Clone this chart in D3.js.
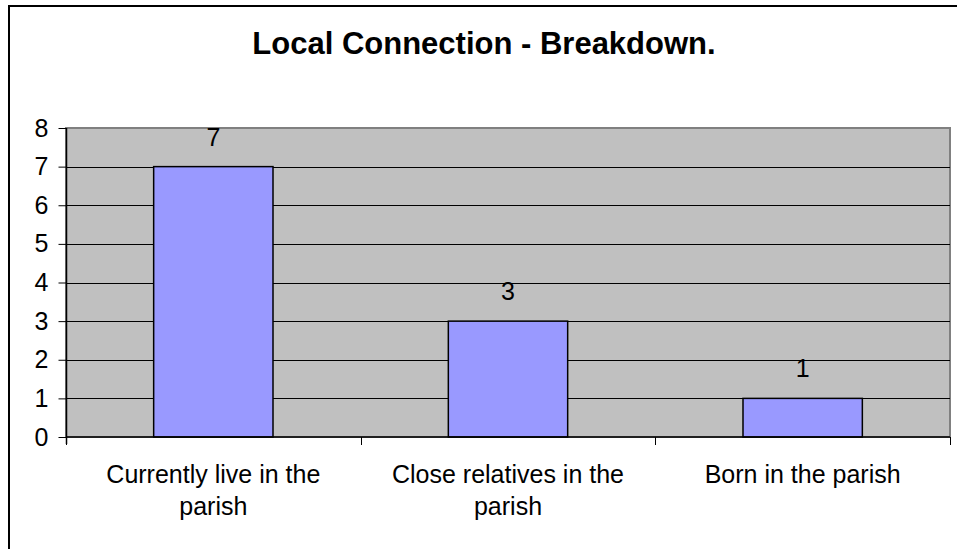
<!DOCTYPE html>
<html>
<head>
<meta charset="utf-8">
<script src="https://cdn.jsdelivr.net/npm/d3@7"></script>
<style>
html,body{margin:0;padding:0;background:#fff;}
svg{display:block;font-family:"Liberation Sans",Arial,sans-serif;}
</style>
</head>
<body>
<svg id="chart" width="957" height="549"></svg>
<script>
const title = "Local Connection - Breakdown.";
const categories = ["Currently live in the parish", "Close relatives in the parish", "Born in the parish"];
const categoryLines = [["Currently live in the", "parish"], ["Close relatives in the", "parish"], ["Born in the parish"]];
const values = [7, 3, 1];
const yTicks = [0, 1, 2, 3, 4, 5, 6, 7, 8];

const svg = d3.select("#chart");
const W = 957, H = 549;
const plot = {left: 66, top: 128, right: 950, bottom: 437};

svg.append("rect").attr("width", W).attr("height", H).attr("fill", "#fff");
// outer chart border
svg.append("rect").attr("x", 9).attr("y", 6).attr("width", W + 20).attr("height", H + 20)
  .attr("fill", "none").attr("stroke", "#000").attr("stroke-width", 2);

svg.append("text").attr("x", 484).attr("y", 54).attr("text-anchor", "middle")
  .attr("font-size", 31).attr("font-weight", "bold").attr("fill", "#000").text(title);

const x = d3.scaleBand().domain(categories).range([plot.left, plot.right]).paddingInner(0).paddingOuter(0);
const y = d3.scaleLinear().domain([0, 8]).range([plot.bottom, plot.top]);

// plot area
svg.append("rect").attr("x", plot.left).attr("y", plot.top)
  .attr("width", plot.right - plot.left).attr("height", plot.bottom - plot.top)
  .attr("fill", "#C0C0C0").attr("stroke", "#808080").attr("stroke-width", 2);

// gridlines
svg.append("g").selectAll("line").data(yTicks.filter(d => d > 0 && d < 8)).join("line")
  .attr("x1", plot.left).attr("x2", plot.right)
  .attr("y1", d => Math.round(y(d)) + 0.5).attr("y2", d => Math.round(y(d)) + 0.5)
  .attr("stroke", "#000").attr("stroke-width", 1);

// bars
const bw = x.bandwidth() * 0.405;
svg.append("g").selectAll("rect").data(values).join("rect")
  .attr("x", (d, i) => x(categories[i]) + x.bandwidth() / 2 - bw / 2)
  .attr("y", d => y(d))
  .attr("width", bw)
  .attr("height", d => y(0) - y(d))
  .attr("fill", "#9999FF").attr("stroke", "#000").attr("stroke-width", 1.5);

// value labels
svg.append("g").selectAll("text").data(values).join("text")
  .attr("x", (d, i) => x(categories[i]) + x.bandwidth() / 2)
  .attr("y", d => y(d) - 21)
  .attr("text-anchor", "middle").attr("font-size", 25).attr("fill", "#000")
  .text(d => d);

// y axis
const yAxis = d3.axisLeft(y).tickValues(yTicks).tickSize(8).tickPadding(10).tickFormat(d3.format("d"));
const gy = svg.append("g").attr("transform", `translate(${plot.left + 0.5},0)`).call(yAxis);
gy.select(".domain").attr("stroke", "#000").attr("stroke-width", 1.5).attr("d", `M0,${plot.top}V${plot.bottom + 7}`);
gy.selectAll(".tick line").attr("stroke", "#000");
gy.selectAll(".tick text").attr("font-size", 25).attr("font-family", "Liberation Sans, Arial, sans-serif").attr("fill", "#000");

// x axis
const gx = svg.append("g").attr("transform", `translate(0,${plot.bottom})`);
gx.append("line").attr("x1", plot.left).attr("x2", plot.right).attr("y1", 0).attr("y2", 0)
  .attr("stroke", "#000").attr("stroke-width", 1.5);
const bounds = categories.map(c => x(c)).concat([plot.right]);
gx.selectAll("line.tk").data(bounds).join("line").attr("class", "tk")
  .attr("x1", d => Math.round(d) + 0.5).attr("x2", d => Math.round(d) + 0.5)
  .attr("y1", 0).attr("y2", 8).attr("stroke", "#000");
const lab = gx.selectAll("text.cat").data(categories).join("text").attr("class", "cat")
  .attr("text-anchor", "middle").attr("font-size", 25).attr("fill", "#000");
lab.each(function (c, i) {
  const t = d3.select(this);
  categoryLines[i].forEach((ln, j) => {
    t.append("tspan").attr("x", x(c) + x.bandwidth() / 2).attr("y", 46 + j * 32).text(ln);
  });
});
</script>
</body>
</html>
